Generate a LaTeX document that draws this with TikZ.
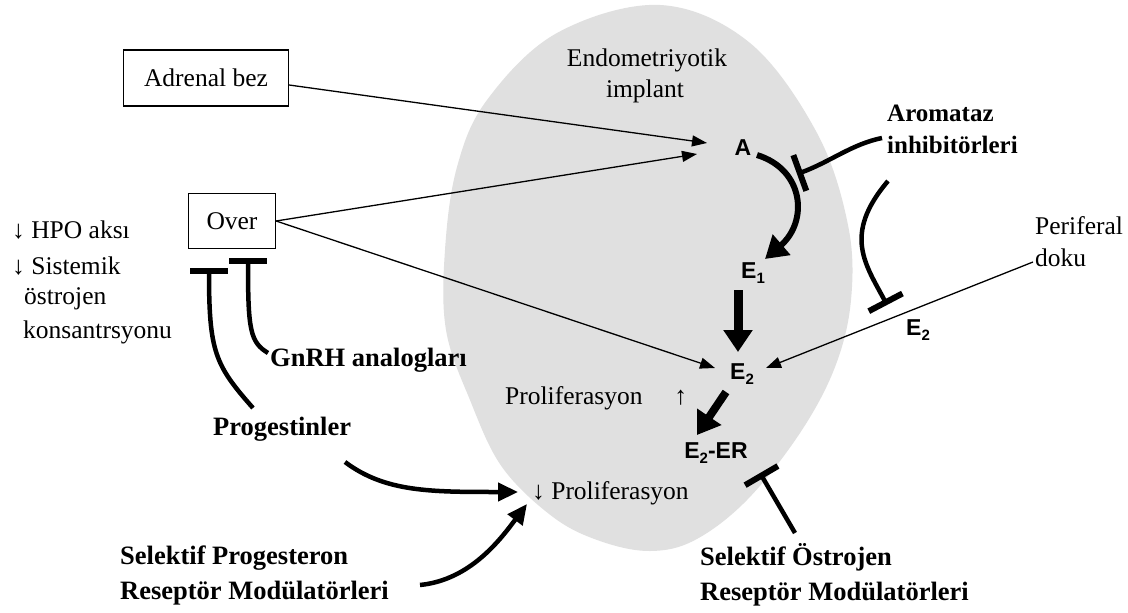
\documentclass[tikz,border=0pt]{standalone}
\usepackage{fontspec}
\setmainfont{Liberation Serif}
\newfontfamily\lsans{Liberation Sans}
\usetikzlibrary{arrows.meta}
\definecolor{implantgray}{RGB}{224,224,224}
\newcommand\lowsub[1]{\raisebox{-0.45ex}{\fontsize{15}{15}\selectfont #1}}
\tikzset{
 txt/.style={font=\fontsize{25.5}{32}\selectfont, inner sep=0pt, anchor=west},
 btxt/.style={font=\fontsize{26.5}{35}\selectfont\bfseries, inner sep=0pt, anchor=west, align=left},
 mol/.style={font=\lsans\bfseries\fontsize{23}{26}\selectfont, inner sep=1pt},
 box/.style={draw, line width=1.2pt, font=\fontsize{25.5}{32}\selectfont},
 thinarrow/.style={line width=1.3pt, -{Triangle[length=15pt,width=11pt]}},
 fatarrow/.style={line width=9pt, -{Triangle[length=22pt,width=28pt]}},
 curvearrow/.style={line width=6pt, -{Triangle[length=22pt,width=26pt]}},
 curvebold/.style={line width=4.5pt, -{Triangle[length=20pt,width=18pt]}},
 inhib/.style={line width=4.5pt, -{Bar[width=38pt,line width=6pt]}},
}
\begin{document}
\begin{tikzpicture}[x=1pt,y=-1pt]
\useasboundingbox (0,0) rectangle (1128,613);
\fill[white] (0,0) rectangle (1128,613);
% implant region
\fill[implantgray] plot[smooth cycle, tension=0.6] coordinates {
 (660,5) (750,43) (817,133) (848,225) (851,300) (835,367) (800,433)
 (747,500) (695,540) (650,551) (600,541) (553,517) (502,467) (470,400)
 (446,330) (445,250) (457,167) (487,100) (557,33)};

% boxes
\node[box, minimum width=165pt, minimum height=56pt] (adrenal) at (206,78) {Adrenal bez};
\node[box, minimum width=87pt, minimum height=55pt] (over) at (232,221) {Over};

% plain texts
\node[txt, anchor=center] (endo) at (647,60) {Endometriyotik};
\node[txt, anchor=center] (impl) at (645,91) {implant};
\node[txt] (hpo) at (12,230) {↓ HPO aksı};
\node[txt] (sist) at (12,266) {↓ Sistemik};
\node[txt] (ostr) at (24,299) {östrojen};
\node[txt] (kons) at (23,332) {konsantrsyonu};
\node[txt] (prolup) at (505,398) {Proliferasyon \quad↑};
\node[txt] (proldown) at (532,493) {↓ Proliferasyon};
\node[txt, align=left] (peri) at (1035,242) {Periferal\\doku};

% bold texts
\node[btxt, font=\fontsize{25}{32}\selectfont\bfseries] (aro) at (887,129) {Aromataz\\inhibitörleri};
\node[btxt] (gnrh) at (270,360) {GnRH analogları};
\node[btxt] (prog) at (213,429) {Progestinler};
\node[btxt] (sprm) at (120,575) {Selektif Progesteron\\Reseptör Modülatörleri};
\node[btxt] (serm) at (700,575) {Selektif Östrojen\\Reseptör Modülatörleri};

% molecules
\node[mol] (A) at (743,148) {A};
\node[mol] (E1) at (753,273) {E\lowsub{1}};
\node[mol] (E2) at (742,374) {E\lowsub{2}};
\node[mol] (E2p) at (918,330) {E\lowsub{2}};
\node[mol] (E2ER) at (716,453) {E\lowsub{2}-ER};

% coordinates for connector ends
\coordinate (aIn1) at (707,143);
\coordinate (aIn2) at (697,154);
\coordinate (e2inL) at (715,368);
\coordinate (e2inR) at (766,368);
\coordinate (periStart) at (1033,262);
\coordinate (ovOut) at (over.east);

% thin arrows
\draw[thinarrow] ([yshift=-7pt]adrenal.east) -- (aIn1);
\draw[thinarrow] (ovOut) -- (aIn2);
\draw[thinarrow] (ovOut) -- (e2inL);
\draw[thinarrow] (periStart) -- (e2inR);

% A -> E1
\draw[curvearrow] (757,155) .. controls (805,170) and (808,222) .. (765,259);
% E1 -> E2
\draw[fatarrow] (738,290) -- (738,352);
% E2 -> E2-ER
\draw[fatarrow, line width=8pt] (726,392) -- (697,435);

% aromatase inhibitors
\draw[inhib] (882,138) .. controls (852,144) and (830,162) .. (797,174);
\draw[inhib] (888,181) .. controls (842,235) and (866,265) .. (887,305);

% GnRH, progestins
\draw[inhib] (268,353) .. controls (250,342) and (248,330) .. (248,258);
\draw[inhib] (253,408) .. controls (215,365) and (209,352) .. (209,268);

% SERM
\draw[inhib] (795,533) -- (760,473);

% progestins, SPRM -> proliferation
\draw[curvebold] (345,462) .. controls (385,492) and (430,492) .. (518,492);
\draw[curvebold] (420,585) .. controls (470,580) and (500,540) .. (527,504);
\end{tikzpicture}
\end{document}
